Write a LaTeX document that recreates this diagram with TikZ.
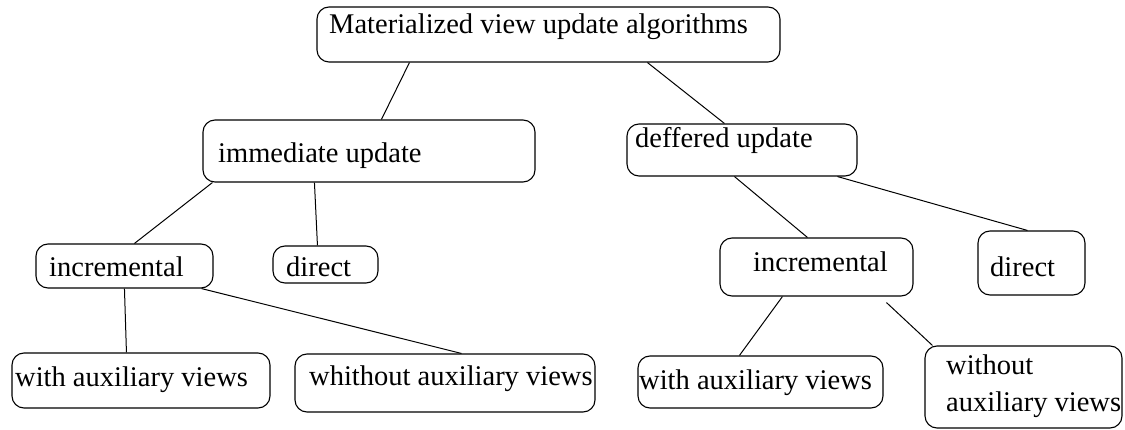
\documentclass[tikz,border=0pt]{standalone}
\usepackage{fontspec}
\setmainfont{Liberation Serif}
\begin{document}
\begin{tikzpicture}[x=1pt,y=-1pt,
	algbox/.style={draw,line width=1.1pt,rounded corners=12pt,inner sep=0pt},
	algtext/.style={anchor=base west,inner sep=0pt,align=left,font=\fontsize{28.5}{36}\selectfont},
	link/.style={line width=1pt}]
	\useasboundingbox (0,0) rectangle (1125,430);
	% boxes
	\node[algbox,minimum width=463pt,minimum height=55pt] (alg) at (548.5,34.5) {};
	\node[algbox,minimum width=332pt,minimum height=62pt] (imm) at (369,151) {};
	\node[algbox,minimum width=230pt,minimum height=52pt] (def) at (742,150) {};
	\node[algbox,minimum width=177pt,minimum height=44pt] (incL) at (124.5,266) {};
	\node[algbox,minimum width=105pt,minimum height=37pt] (dirL) at (325.5,264.5) {};
	\node[algbox,minimum width=193pt,minimum height=58pt] (incR) at (816.5,267) {};
	\node[algbox,minimum width=107pt,minimum height=64pt] (dirR) at (1031.5,263) {};
	\node[algbox,minimum width=258pt,minimum height=55pt] (withL) at (141,380.5) {};
	\node[algbox,minimum width=300pt,minimum height=58pt] (whoutL) at (445,383) {};
	\node[algbox,minimum width=245pt,minimum height=52pt] (withR) at (760.5,382) {};
	\node[algbox,minimum width=197pt,minimum height=82pt] (woutR) at (1023.5,387) {};
	% texts
	\node[algtext] (algT) at (329,34) {Materialized view update algorithms};
	\node[algtext] (immT) at (218,163) {immediate update};
	\node[algtext] (defT) at (635,148) {deffered update};
	\node[algtext] (incLT) at (49,277) {incremental};
	\node[algtext] (dirLT) at (286,277) {direct};
	\node[algtext] (incRT) at (753,272) {incremental};
	\node[algtext] (dirRT) at (990,277) {direct};
	\node[algtext] (withLT) at (15,387) {with auxiliary views};
	\node[algtext] (whoutLT) at (309,385) {whithout auxiliary views};
	\node[algtext] (withRT) at (639,389) {with auxiliary views};
	\node[algtext] (woutRT) at (946,411) {without\\auxiliary views};
	% connectors
	\draw[link] ([xshift=93pt]alg.south west)--([xshift=179pt]imm.north west);
	\draw[link] ([xshift=331pt]alg.south west)--([xshift=98pt]def.north west);
	\draw[link] ([xshift=10pt]imm.south west)--([xshift=99pt]incL.north west);
	\draw[link] ([xshift=112pt]imm.south west)--([xshift=45pt]dirL.north west);
	\draw[link] ([xshift=89pt]incL.south west)--([xshift=115pt]withL.north west);
	\draw[link] ([xshift=166pt]incL.south west)--([xshift=167pt]whoutL.north west);
	\draw[link] ([xshift=108pt]def.south west)--([xshift=88pt]incR.north west);
	\draw[link] ([xshift=211pt]def.south west)--([xshift=50pt]dirR.north west);
	\draw[link] ([xshift=63pt]incR.south west)--([xshift=102pt]withR.north west);
	\draw[link] ([xshift=167pt,yshift=-6pt]incR.south west)--([xshift=8pt]woutR.north west);
\end{tikzpicture}
\end{document}
